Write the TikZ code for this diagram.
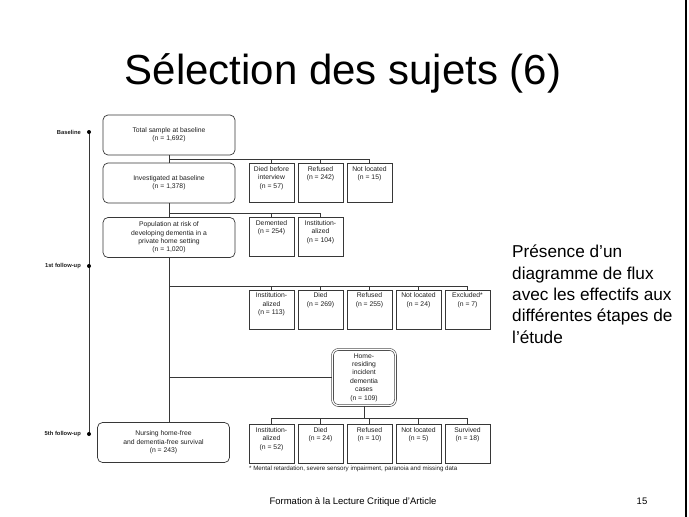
\documentclass[tikz,border=0pt]{standalone}
\usepackage{fontspec}
\setmainfont{Liberation Sans}
\usetikzlibrary{positioning, calc}
\definecolor{inkgray}{RGB}{55, 55, 55}
\definecolor{textgray}{RGB}{30, 30, 30}
\newcommand{\diagfont}{\fontsize{6.8}{8.4}\selectfont}

\begin{document}
\begin{tikzpicture}[
    x=1pt, y=-1pt,
    flow/.style={draw=inkgray, line width=0.6pt},
    mainbox/.style={draw=inkgray, line width=0.7pt, rounded corners=5pt, minimum width=132pt, minimum height=40pt, align=center, inner sep=2pt, font=\diagfont, text=textgray},
    stepbox/.style={draw=inkgray, line width=0.6pt, rectangle, inner xsep=2pt, inner ysep=3pt, outer sep=0pt, font=\diagfont, text=textgray,
        execute at begin node={\begin{minipage}[c][33pt][t]{41pt}\centering},
        execute at end node={\end{minipage}}},
    homebox/.style={draw=inkgray, line width=0.6pt, double, double distance=1.3pt, rounded corners=6pt, minimum width=63pt, minimum height=56pt, align=center, inner sep=1pt, font=\diagfont, text=textgray},
    phaselabel/.style={font=\fontsize{5.8}{7}\selectfont\bfseries, text=textgray, inner sep=0pt},
    notelabel/.style={font=\fontsize{6.2}{7.5}\selectfont, text=textgray, inner sep=0pt}
]
    \useasboundingbox (0,0) rectangle (689,517);

    % =========================================================================
    % SLIDE TEXT
    % =========================================================================
    \node[anchor=base, font=\fontsize{42}{50}\selectfont] (title) at (343, 84) {Sélection des sujets (6)};
    \node[anchor=north west, inner sep=0pt, align=left, font=\fontsize{17.2}{21.3}\selectfont] (remark) at (512, 245)
        {Présence d’un\\diagramme de flux\\avec les effectifs aux\\différentes étapes de\\l’étude};
    \node[anchor=base, font=\fontsize{9.5}{11}\selectfont] (footer) at (353, 504) {Formation à la Lecture Critique d'Article};
    \node[anchor=base, font=\fontsize{9.5}{11}\selectfont] (pagenum) at (642, 504) {15};
    \draw[line width=1.5pt] (686, 0) -- (686, 517);

    % =========================================================================
    % TIMELINE
    % =========================================================================
    \coordinate (tbase) at (89, 132);
    \coordinate (tfirst) at (89, 266);
    \coordinate (tfifth) at (89, 434);
    \draw[flow] (tbase) -- (tfifth);
    \foreach \t in {tbase, tfirst, tfifth} {
        \fill[black] (\t) circle (2pt);
    }
    \node[phaselabel, anchor=east] (lbase) at ($(tbase)+(-8, 0)$) {Baseline};
    \node[phaselabel, anchor=east] (lfirst) at ($(tfirst)+(-8, 0)$) {1st follow-up};
    \node[phaselabel, anchor=east] (lfifth) at ($(tfifth)+(-8, 0)$) {5th follow-up};

    % =========================================================================
    % MAIN COLUMN
    % =========================================================================
    \node[mainbox] (tot) at (169, 135) {Total sample at baseline\\(n = 1,692)};
    \node[mainbox] (inv) at (169, 183) {Investigated at baseline\\(n = 1,378)};
    \node[mainbox] (pop) at (169, 237.5) {Population at risk of\\developing dementia in a\\private home setting\\(n = 1,020)};
    \node[mainbox] (nurs) at (163.5, 442.5) {Nursing home-free\\and dementia-free survival\\(n = 243)};

    % --- exclusions at baseline ---
    \node[stepbox] (d1) at (271.5, 183) {Died before\\interview\\(n = 57)};
    \node[stepbox, right=4pt of d1] (rf1) {Refused\\(n = 242)};
    \node[stepbox, right=4pt of rf1] (nl1) {Not located\\(n = 15)};

    \node[stepbox] (dm2) at (271.5, 237) {Demented\\(n = 254)};
    \node[stepbox, right=4pt of dm2] (in2) {Institution-\\alized\\(n = 104)};

    % --- losses during follow-up ---
    \node[stepbox] (in3) at (271.5, 309.5) {Institution-\\alized\\(n = 113)};
    \node[stepbox, right=4pt of in3] (di3) {Died\\(n = 269)};
    \node[stepbox, right=4pt of di3] (rf3) {Refused\\(n = 255)};
    \node[stepbox, right=4pt of rf3] (nl3) {Not located\\(n = 24)};
    \node[stepbox, right=4pt of nl3] (ex3) {Excluded*\\(n = 7)};

    % --- incident dementia cases ---
    \node[homebox] (home) at (364, 377.5) {Home-\\residing\\incident\\dementia\\cases\\(n = 109)};

    \node[stepbox] (in4) at (271.5, 444) {Institution-\\alized\\(n = 52)};
    \node[stepbox, right=4pt of in4] (di4) {Died\\(n = 24)};
    \node[stepbox, right=4pt of di4] (rf4) {Refused\\(n = 10)};
    \node[stepbox, right=4pt of rf4] (nl4) {Not located\\(n = 5)};
    \node[stepbox, right=4pt of nl4] (sv4) {Survived\\(n = 18)};

    \node[notelabel, anchor=north west] (note) at ($(in4.south west)+(0, 2.5)$)
        {* Mental retardation, severe sensory impairment, paranoia and missing data};

    % =========================================================================
    % CONNECTORS
    % =========================================================================
    \draw[flow] (tot) -- (inv);
    \draw[flow] (inv) -- (pop);
    \draw[flow] (pop) -- (pop.south |- nurs.north);

    \coordinate (j1) at ($(tot.south)!0.5!(inv.north)$);
    \draw[flow] (j1) -| (nl1);
    \foreach \b in {d1, rf1} {
        \draw[flow] (\b) -- (\b |- j1);
    }

    \coordinate (j2) at ($(inv.south)+(0, 10)$);
    \draw[flow] (j2) -| (in2);
    \draw[flow] (dm2) -- (dm2 |- j2);

    \coordinate (j3) at ($(pop.south)+(0, 28)$);
    \draw[flow] (j3) -| (ex3);
    \foreach \b in {in3, di3, rf3, nl3} {
        \draw[flow] (\b) -- (\b |- j3);
    }

    \coordinate (j4) at (pop.south |- home.west);
    \draw[flow] (j4) -- (home);

    \coordinate (j5) at ($(home.south)+(0, 12)$);
    \draw[flow] (home) -- (j5);
    \draw[flow] (in4 |- j5) -- (sv4 |- j5);
    \foreach \b in {in4, di4, rf4, nl4, sv4} {
        \draw[flow] (\b) -- (\b |- j5);
    }

\end{tikzpicture}
\end{document}
